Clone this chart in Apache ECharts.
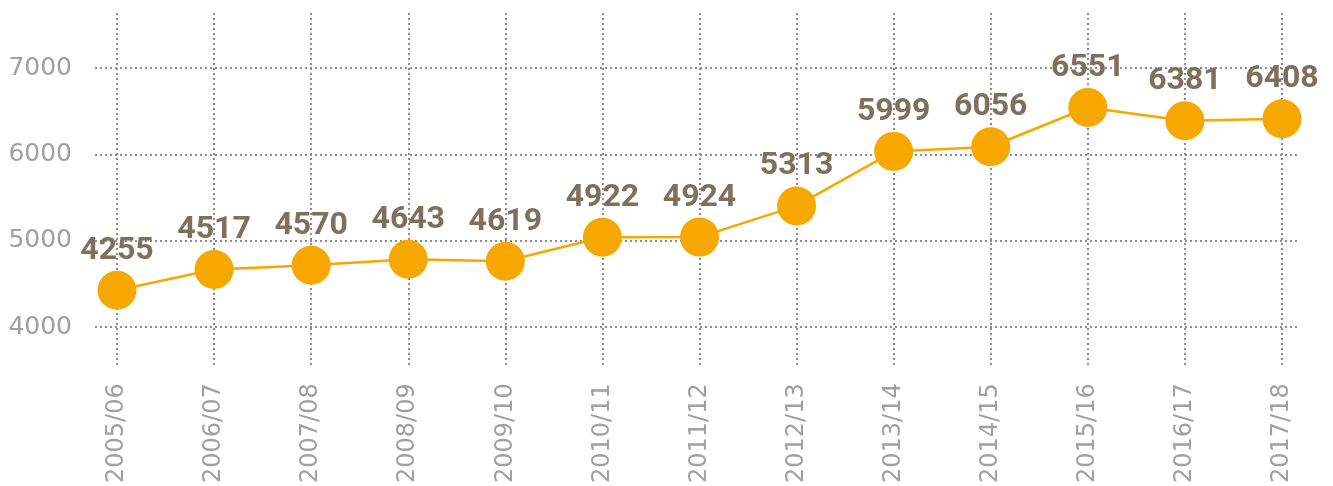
<!DOCTYPE html>
<html>
<head>
<meta charset="utf-8">
<script src="https://cdn.jsdelivr.net/npm/echarts@6/dist/echarts.min.js"></script>
<style>
html,body{margin:0;padding:0;background:#fff;}
#chart{width:1333px;height:486px;}
</style>
</head>
<body>
<div id="chart"></div>
<script>
// Data
var categories = ['2005/06','2006/07','2007/08','2008/09','2009/10','2010/11','2011/12','2012/13','2013/14','2014/15','2015/16','2016/17','2017/18'];
var plottedValues = [4420, 4660, 4710, 4780, 4756, 5034, 5036, 5398, 6031, 6085, 6540, 6386, 6409];
var labelValues = [4255, 4517, 4570, 4643, 4619, 4922, 4924, 5313, 5999, 6056, 6551, 6381, 6408];
var yTicks = [4000, 5000, 6000, 7000];

// Layout geometry
var H = 486;
var yGridTop = 68, yGridBottomPx = 327;       // pixel rows of 7000 and 4000
var catTop = 13, catBottomPx = 368;          // extent of vertical grid lines
var yMin = yTicks[0], yMax = yTicks[yTicks.length - 1];
var pxPerUnit = (yGridBottomPx - yGridTop) / (yMax - yMin);
var bMax = yMin + (yGridBottomPx - catTop) / pxPerUnit;
var bMin = yMin - (catBottomPx - yGridBottomPx) / pxPerUnit;

var gridLine = {show: true, lineStyle: {color: '#8c8c8c', width: 2, type: [2, 3]}};

var chart = echarts.init(document.getElementById('chart'), null, {renderer: 'canvas'});
chart.setOption({
  animation: false,
  backgroundColor: '#ffffff',
  grid: [
    {left: 95, right: 33, top: yGridTop, bottom: H - yGridBottomPx},
    {left: 117, right: 51, top: catTop, bottom: H - catBottomPx}
  ],
  xAxis: [
    {gridIndex: 0, type: 'value', show: false},
    {
      gridIndex: 1, type: 'category', data: categories, boundaryGap: false,
      axisLine: {show: false}, axisTick: {show: false},
      splitLine: gridLine,
      axisLabel: {rotate: 90, margin: 16, color: '#a0a0a0', fontSize: 24, fontFamily: 'DejaVu Sans'}
    }
  ],
  yAxis: [
    {
      gridIndex: 0, type: 'value', min: yMin, max: yMax, interval: 1000,
      axisLine: {show: false}, axisTick: {show: false},
      splitLine: gridLine,
      axisLabel: {
        margin: 23, color: '#a0a0a0', fontSize: 25, fontFamily: 'DejaVu Sans', padding: [0,0,6,0],
        formatter: function (v) { return String(v); }
      }
    },
    {gridIndex: 1, type: 'value', min: bMin, max: bMax, show: false, splitLine: {show: false}}
  ],
  series: [{
    type: 'line',
    xAxisIndex: 1, yAxisIndex: 1,
    data: plottedValues,
    symbol: 'circle',
    symbolSize: 39,
    itemStyle: {color: '#F6A800'},
    lineStyle: {color: '#F6A800', width: 2.5},
    label: {
      show: true, position: 'top', distance: 4,
      formatter: function (p) { return String(labelValues[p.dataIndex]); },
      color: '#7f705d', fontSize: 32, fontWeight: 'bold', fontFamily: 'Roboto'
    },
    z: 5
  }]
});
</script>
</body>
</html>
